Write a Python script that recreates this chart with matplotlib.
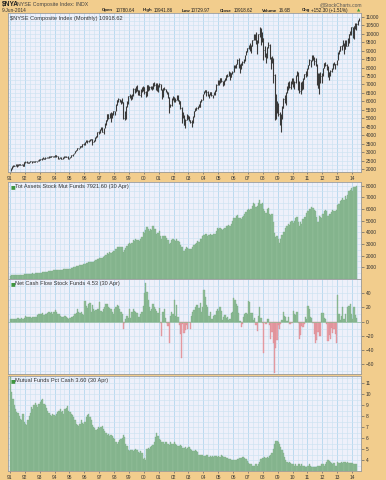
import numpy as np
import matplotlib
matplotlib.use("Agg")
import matplotlib.pyplot as plt
from matplotlib.ticker import FixedLocator, MultipleLocator

plt.rcParams['font.family'] = ['Liberation Sans', 'DejaVu Sans']

# ---------------- data (monthly, Jan 1991 onward) ----------------
nya_close = [
 2015,2151,2193,2191,2265,2159,2251,2297,2261,2288,2186,2425,
 2399,2430,2374,2424,2442,2401,2483,2427,2455,2461,2537,2539,
 2575,2596,2657,2607,2663,2667,2652,2731,2737,2771,2714,2739,
 2825,2746,2617,2648,2674,2593,2674,2774,2703,2730,2611,2652,
 2706,2801,2875,2949,3055,3118,3224,3234,3351,3330,3467,3483,
 3594,3626,3657,3700,3774,3763,3583,3668,3858,3922,4196,4147,
 4365,4376,4196,4408,4683,4883,5243,5010,5274,5105,5296,5403,
 5444,5814,6088,6131,5983,6057,5940,4989,5274,5676,5972,6298,
 6353,6183,6374,6733,6617,6881,6659,6564,6374,6744,6691,6874,
 6564,6374,6944,6828,6849,6797,6744,7082,6976,7029,6670,6943,
 7018,6701,6342,6775,6744,6575,6522,6236,5687,5761,6131,6234,
 6131,6110,6342,6078,6025,5613,5179,5179,4608,4915,5179,4998,
 4880,4750,4730,5120,5440,5510,5620,5740,5690,6020,6070,6440,
 6560,6660,6530,6330,6420,6550,6360,6380,6510,6640,6980,7250,
 7090,7360,7180,7010,7220,7310,7570,7520,7750,7450,7690,7750,
 8090,8070,8210,8420,8150,8140,8170,8340,8450,8740,8970,9140,
 9300,9120,9270,9650,9960,9780,9450,9580,9980,10310,9820,9740,
 9050,8830,8680,9200,9350,8540,8420,8450,7550,6100,5570,5760,
 5240,4660,5000,5610,6150,6030,6540,6850,7020,6850,7140,7190,
 6890,7120,7560,7630,6980,6590,7110,6740,7350,7600,7550,7960,
 8160,8430,8450,8720,8550,8390,8160,7540,6790,7580,7480,7480,
 7960,8270,8160,8050,7470,7710,7820,7970,8240,8230,8210,8440,
 8940,8970,9250,9330,9410,9120,9600,9300,9630,9990,10120,10400,
 9970,10470,10530,10600,10810,10918]
nya_high = [
 2030,2170,2230,2240,2280,2280,2270,2320,2310,2320,2300,2430,
 2450,2450,2440,2440,2460,2450,2490,2490,2480,2480,2540,2560,
 2590,2620,2680,2660,2680,2690,2680,2740,2750,2790,2770,2750,
 2840,2840,2760,2670,2690,2690,2680,2780,2790,2740,2740,2670,
 2720,2810,2880,2960,3060,3130,3240,3260,3360,3370,3470,3510,
 3600,3700,3700,3720,3800,3800,3770,3700,3870,3960,4200,4270,
 4380,4480,4460,4420,4710,4900,5260,5270,5330,5380,5320,5440,
 5450,5830,6110,6200,6160,6080,6200,5980,5420,5720,6020,6310,
 6420,6380,6420,6800,6820,6900,6960,6700,6660,6760,6830,6900,
 6880,6600,6970,6960,6900,6900,6900,7100,7130,7070,7060,6960,
 7060,7030,6720,6800,6870,6760,6620,6540,6240,5850,6180,6290,
 6260,6170,6390,6350,6100,6050,5640,5380,5200,4980,5250,5200,
 5110,4900,4910,5140,5450,5600,5670,5740,5860,6030,6140,6450,
 6620,6700,6680,6630,6440,6570,6560,6400,6560,6660,7000,7260,
 7250,7380,7400,7220,7240,7380,7580,7620,7770,7760,7700,7800,
 8140,8170,8240,8500,8560,8210,8280,8400,8480,8750,9000,9160,
 9360,9480,9320,9660,9980,10000,10080,9650,10000,10390,10320,10100,
 9740,9250,8850,9230,9530,9370,8640,8680,8550,7610,6420,6000,
 5900,5350,5250,5730,6170,6350,6550,6900,7160,7210,7180,7370,
 7370,7190,7560,7790,7740,7210,7130,7230,7400,7640,7780,7970,
 8170,8530,8470,8720,8760,8600,8580,8200,7680,7680,7750,7700,
 7970,8270,8320,8200,8110,7720,7840,7990,8300,8310,8240,8450,
 8950,9040,9260,9330,9620,9450,9610,9610,9740,10000,10170,10420,
 10430,10490,10620,10640,10820,10942]
nya_low = [
 1850,2000,2120,2150,2170,2140,2150,2220,2230,2230,2150,2170,
 2370,2380,2350,2340,2400,2360,2390,2410,2410,2390,2450,2500,
 2520,2540,2590,2570,2590,2630,2630,2650,2700,2720,2690,2700,
 2730,2730,2600,2580,2620,2580,2590,2670,2700,2680,2600,2590,
 2640,2700,2790,2870,2940,3040,3110,3180,3230,3280,3310,3420,
 3430,3570,3560,3600,3660,3700,3410,3580,3650,3830,3920,4060,
 4120,4310,4180,4090,4400,4600,4860,4980,4990,4750,5020,5180,
 5190,5430,5800,5960,5940,5860,5900,4930,4920,4980,5650,5840,
 6180,6100,6140,6340,6480,6550,6630,6380,6360,6230,6580,6600,
 6450,6240,6330,6600,6650,6740,6670,6740,6900,6650,6600,6550,
 6850,6660,6150,6230,6700,6530,6420,6200,5330,5660,5740,6070,
 5970,5950,6070,6030,5850,5540,4700,5000,4600,4450,4880,4960,
 4860,4700,4500,4700,5100,5420,5470,5550,5650,5680,5950,6060,
 6420,6530,6330,6300,6200,6380,6300,6200,6370,6400,6630,6950,
 6990,7060,7150,6900,6980,7200,7280,7430,7500,7250,7420,7620,
 7740,7960,8000,8190,7950,7690,7940,8130,8300,8410,8730,8920,
 9070,9010,8840,9260,9640,9630,9400,8800,9450,9830,9350,9500,
 8430,8650,8300,8590,9130,8500,7940,8290,7080,4920,4960,5300,
 5160,4630,4180,4930,5580,5890,5790,6470,6700,6820,6760,7050,
 6870,6750,7110,7480,6650,6490,6420,6700,6730,7300,7440,7530,
 7930,8140,8050,8360,8440,8130,8070,6970,6790,6420,7100,7080,
 7500,7950,8080,7870,7420,7270,7500,7760,7910,8150,7910,8150,
 8440,8790,8960,9020,9280,8790,9110,9290,9300,9480,9920,9950,
 9760,9700,10300,10250,10500,10730]

fund_assets = [
 270,300,320,325,345,335,355,370,375,385,375,411,
 425,440,440,450,460,455,475,470,480,490,510,522,
 540,555,580,585,610,625,640,670,690,715,720,749,
 790,790,760,775,790,775,805,845,830,850,830,866,
 880,920,950,985,1030,1070,1130,1150,1190,1180,1230,1249,
 1320,1350,1380,1440,1480,1480,1420,1480,1560,1600,1700,1726,
 1820,1830,1770,1860,1990,2080,2250,2180,2310,2230,2300,2368,
 2400,2580,2720,2750,2700,2770,2710,2300,2450,2650,2800,2978,
 3080,2990,3110,3300,3260,3420,3330,3300,3230,3450,3600,4042,
 3950,4200,4450,4300,4150,4300,4200,4500,4300,4250,3850,3962,
 4100,3700,3450,3700,3720,3650,3550,3320,2980,3080,3300,3418,
 3350,3270,3420,3250,3200,2950,2700,2700,2420,2600,2760,2662,
 2580,2530,2540,2760,2950,3020,3120,3210,3180,3380,3450,3684,
 3780,3850,3820,3720,3780,3870,3730,3740,3820,3880,4100,4384,
 4260,4360,4270,4160,4310,4370,4570,4560,4650,4520,4720,4940,
 5200,5210,5350,5450,5220,5190,5150,5300,5380,5580,5720,5910,
 6030,5930,6020,6270,6490,6400,6200,6250,6520,6720,6400,6516,
 5960,5800,5680,5970,6080,5570,5490,5520,4860,3950,3600,3704,
 3420,3100,3380,3760,4020,4020,4360,4520,4720,4620,4840,4958,
 4780,4930,5210,5280,4840,4570,4900,4680,5110,5330,5330,5667,
 5800,5980,5990,6170,6060,5940,5790,5340,4880,5400,5340,5212,
 5540,5780,5870,5780,5360,5520,5570,5720,5880,5800,5850,5938,
 6330,6400,6650,6760,6900,6720,7070,6880,7190,7500,7640,7763,
 7500,7850,7900,7921.6]

net_flow = [
 3,3,4,3,4,3,5,4,4,5,4,5,
 8,7,6,6,7,5,6,7,6,7,9,10,
 11,10,12,9,11,10,12,14,12,13,11,14,
 16,14,10,10,8,7,6,7,8,6,5,4,
 5,6,7,8,10,12,17,14,12,13,10,9,
 29,22,19,25,26,13,24,18,15,16,18,17,
 27,15,14,18,21,25,25,21,19,17,14,10,
 17,20,24,22,18,14,11,-11,-2,4,8,5,
 18,5,13,18,15,14,12,6,7,10,14,22,
 40,55,42,30,20,15,18,25,20,17,15,12,
 19,-2,-21,13,18,5,-2,-6,-30,8,14,10,
 30,8,24,6,-5,-18,-52,-3,-16,-12,-5,-11,
 -1,-10,8,14,16,20,23,24,19,26,14,20,
 44,35,23,20,8,13,3,3,8,9,15,18,
 15,20,15,2,7,9,5,6,2,4,12,14,
 33,30,25,22,12,1,-8,-3,6,10,12,11,
 29,28,12,12,2,5,-5,-14,8,20,5,-2,
 -45,-1,-4,3,4,-5,-25,-15,-30,-72,-38,-26,
 -5,-10,-4,2,13,8,7,1,7,-4,-3,-2,
 15,11,9,13,-2,-25,-19,-6,-8,-3,7,3,
 22,17,7,5,-2,-18,-30,-26,-15,-20,-21,12,
 12,5,3,-4,-28,-19,-25,-9,-16,-10,-18,-30,
 38,10,2,8,21,3,10,-1,20,22,25,10,
 3,20,9,4.53]

pct_cash = [
 11.8,10.2,9.6,9.0,8.6,8.4,8.3,8.0,7.7,7.6,8.2,7.5,
 7.3,7.2,7.6,8.0,8.3,8.8,8.6,9.0,9.2,9.0,8.8,9.1,
 9.3,9.5,9.6,9.1,9.0,8.7,8.5,8.3,8.1,8.0,8.2,8.1,
 8.0,8.2,8.4,8.5,8.6,8.4,8.5,8.2,8.6,8.7,8.9,8.5,
 8.4,8.2,8.1,7.9,7.6,7.3,7.2,7.1,7.3,7.6,7.4,7.3,
 7.5,7.9,8.1,8.2,7.9,7.6,7.2,7.0,6.9,6.7,6.8,7.0,
 6.9,7.0,7.1,6.8,6.6,6.5,6.3,6.4,6.2,6.3,6.2,6.0,
 5.9,5.6,5.5,5.6,5.8,5.9,6.0,6.3,6.1,5.5,5.3,4.9,
 4.8,4.9,4.9,4.8,4.9,5.0,4.9,4.7,4.6,4.8,4.6,4.1,
 4.2,4.0,5.0,5.1,5.0,5.2,5.3,5.4,5.6,6.1,6.5,6.2,
 5.9,5.8,5.6,5.6,5.5,5.6,5.6,5.5,5.4,5.6,5.5,5.5,
 5.6,5.5,5.4,5.3,5.3,5.4,5.3,5.1,5.1,5.2,5.0,5.1,
 5.2,5.0,4.9,4.8,4.8,4.9,4.8,4.7,4.5,4.5,4.5,4.5,
 4.4,4.4,4.5,4.5,4.3,4.4,4.3,4.4,4.3,4.4,4.4,4.3,
 4.4,4.3,4.5,4.4,4.3,4.3,4.2,4.2,4.1,4.1,4.0,4.0,
 4.0,4.0,4.0,4.1,4.1,4.2,4.2,4.3,4.3,4.2,4.1,3.9,
 3.7,3.6,3.6,3.5,3.5,3.5,3.6,3.5,3.6,3.8,4.1,4.2,
 4.2,4.3,4.2,4.3,4.2,4.4,4.5,4.6,5.0,5.5,5.7,5.7,
 5.6,5.5,5.2,4.9,4.6,4.3,4.0,3.8,3.7,3.8,3.7,3.6,
 3.6,3.5,3.6,3.5,3.6,3.6,3.5,3.6,3.5,3.5,3.4,3.4,
 3.5,3.6,3.5,3.4,3.4,3.4,3.4,3.4,3.5,3.5,3.5,3.6,
 3.6,3.5,3.6,3.8,4.0,3.9,3.8,3.7,3.6,3.7,3.5,3.5,
 3.8,3.7,3.7,3.8,3.7,3.8,3.8,3.7,3.8,3.7,3.7,3.7,
 3.7,3.6,3.6,3.6]

year_labels = ["91","92","93","94","95","96","97","98","99","00","01","02",
               "03","04","05","06","07","08","09","10","11","12","13","14"]
price_ticks = list(range(2000, 11001, 500))
assets_ticks = [1000, 2000, 3000, 4000, 5000, 6000, 7000, 8000]
flow_ticks = [-60, -40, -20, 0, 20, 40]
cash_ticks = [4, 5, 6, 7, 8, 9, 10, 11]

# ---------------- styling ----------------
W, H = 386, 480
TAN = "#f2cd8d"
PANEL = "#eef0fa"
GRID = "#cde3f2"
GRID_MAJ = "#b3d6ee"
GREEN = "#8fbd97"
GREEN_E = "#79ab84"
RED = "#e9a2a9"
TXT = "#333333"
TICKFS = 3.5

fig = plt.figure(figsize=(W / 100, H / 100), dpi=100, facecolor=TAN)

def px_axes(top, bottom, left=8, right=361):
    return fig.add_axes([left / W, 1 - bottom / H, (right - left) / W, (bottom - top) / H])

start = 1991.0
def months_x(n):
    return start + (np.arange(n) + 0.5) / 12.0

year_pos = [1991 + i for i in range(len(year_labels))]
XL = (1990.87, 2014.60)

def style(ax, yticks, ylim, yminor, show_x):
    ax.set_facecolor(PANEL)
    ax.set_xlim(*XL)
    ax.set_ylim(*ylim)
    ax.xaxis.set_major_locator(FixedLocator(year_pos))
    ax.xaxis.set_minor_locator(MultipleLocator(1 / 3))
    ax.yaxis.set_major_locator(FixedLocator(yticks))
    ax.yaxis.set_minor_locator(MultipleLocator(yminor))
    ax.grid(True, which="major", axis="x", color=GRID_MAJ, lw=0.6)
    ax.grid(True, which="minor", axis="x", color=GRID, lw=0.45)
    ax.grid(True, which="both", axis="y", color=GRID, lw=0.45)
    ax.set_axisbelow(True)
    ax.yaxis.tick_right()
    ax.tick_params(axis="y", which="major", length=2, width=0.5, pad=1.5,
                   labelsize=TICKFS, colors="#666666", labelcolor=TXT)
    ax.tick_params(axis="both", which="minor", length=0)
    if show_x:
        ax.set_xticklabels(year_labels)
        ax.tick_params(axis="x", which="major", length=1.5, width=0.5, pad=1.5,
                       labelsize=TICKFS, colors="#666666", labelcolor=TXT)
    else:
        ax.tick_params(axis="x", which="major", length=0, labelbottom=False)
    for s in ax.spines.values():
        s.set_color("#9a9a9a")
        s.set_linewidth(0.6)

def panel_title(ax, text, icon=True):
    x0 = 0.006
    if icon:
        ax.text(x0, 0.975, "\u25A0", transform=ax.transAxes, fontsize=3.6,
                color="#3f963f", va="top", ha="left", family="DejaVu Sans")
        x0 += 0.013
    ax.text(x0, 0.978, text, transform=ax.transAxes, fontsize=4.1,
            color=TXT, va="top", ha="left")

# ---- panel 1: price bars ----
ax1 = px_axes(13, 172)
style(ax1, price_ticks, (1820, 11230), 250, True)
xp = months_x(len(nya_close))
ax1.vlines(xp, nya_low, nya_high, color="#3a3a3a", lw=0.8)
ax1.hlines(nya_close, xp, xp + 0.04, color="#3a3a3a", lw=0.6)
panel_title(ax1, "\\$NYSE Composite Index (Monthly) 10918.62", icon=False)

# ---- panel 2: fund assets ----
ax2 = px_axes(182, 279)
style(ax2, assets_ticks, (0, 8300), 500, False)
xa = months_x(len(fund_assets))
ax2.bar(xa, fund_assets, width=1 / 12, color=GREEN, edgecolor=GREEN_E, lw=0.25)
panel_title(ax2, "Tot Assets Stock Mut Funds 7921.60 (30 Apr)")

# ---- panel 3: net cash flow ----
ax3 = px_axes(279, 374)
style(ax3, flow_ticks, (-74, 60), 10, False)
xf = months_x(len(net_flow))
nf = np.array(net_flow, dtype=float)
cols = [GREEN if v >= 0 else RED for v in nf]
ecols = [GREEN_E if v >= 0 else "#d9858e" for v in nf]
ax3.bar(xf, nf, width=1 / 12, color=cols, edgecolor=ecols, lw=0.25)
ax3.axhline(0, color="#8fbd97", lw=0.5)
panel_title(ax3, "Net Cash Flow Stock Funds 4.53 (30 Apr)")

# ---- panel 4: pct cash ----
ax4 = px_axes(376, 471)
style(ax4, cash_ticks, (3.0, 11.65), 0.5, True)
xc = months_x(len(pct_cash))
ax4.bar(xc, pct_cash, width=1 / 12, color=GREEN, edgecolor=GREEN_E, lw=0.25)
panel_title(ax4, "Mutual Funds Pct Cash 3.60 (30 Apr)")

# ---------------- header ----------------
def ftext(x, y, s, **kw):
    fig.text(x / W, 1 - y / H, s, va="center", ha="left", **kw)

ftext(2, 4.5, "\\$NYA", fontsize=4.8, fontweight="bold", color="#222222")
ftext(17, 4.5, "NYSE Composite Index: INDX", fontsize=3.8, color="#444444")
ftext(2, 10.5, "9-Jun-2014", fontsize=3.5, color="#333333")
fig.text(362 / W, 1 - 4.5 / H, "@StockCharts.com", fontsize=3.5, color="#555555",
         va="center", ha="right")
items = [(102, "Open", True), (116, "10780.64", False), (143, "High", True),
         (154, "10941.86", False), (182, "Low", True), (191, "10729.97", False),
         (220, "Close", True), (234, "10918.62", False), (262, "Volume", True),
         (279, "16.6B", False), (302, "Chg", True), (311, "+152.30 (+1.51%)", False)]
for x, s, b in items:
    ftext(x, 10.5, s, fontsize=3.3 if not b else 3.2,
          fontweight="bold" if b else "normal", color="#222222")
ftext(357, 10.8, "\u25B2", fontsize=3.0, color="#3a9a3a", family="DejaVu Sans")

fig.savefig("out.png", dpi=100, facecolor=TAN)
